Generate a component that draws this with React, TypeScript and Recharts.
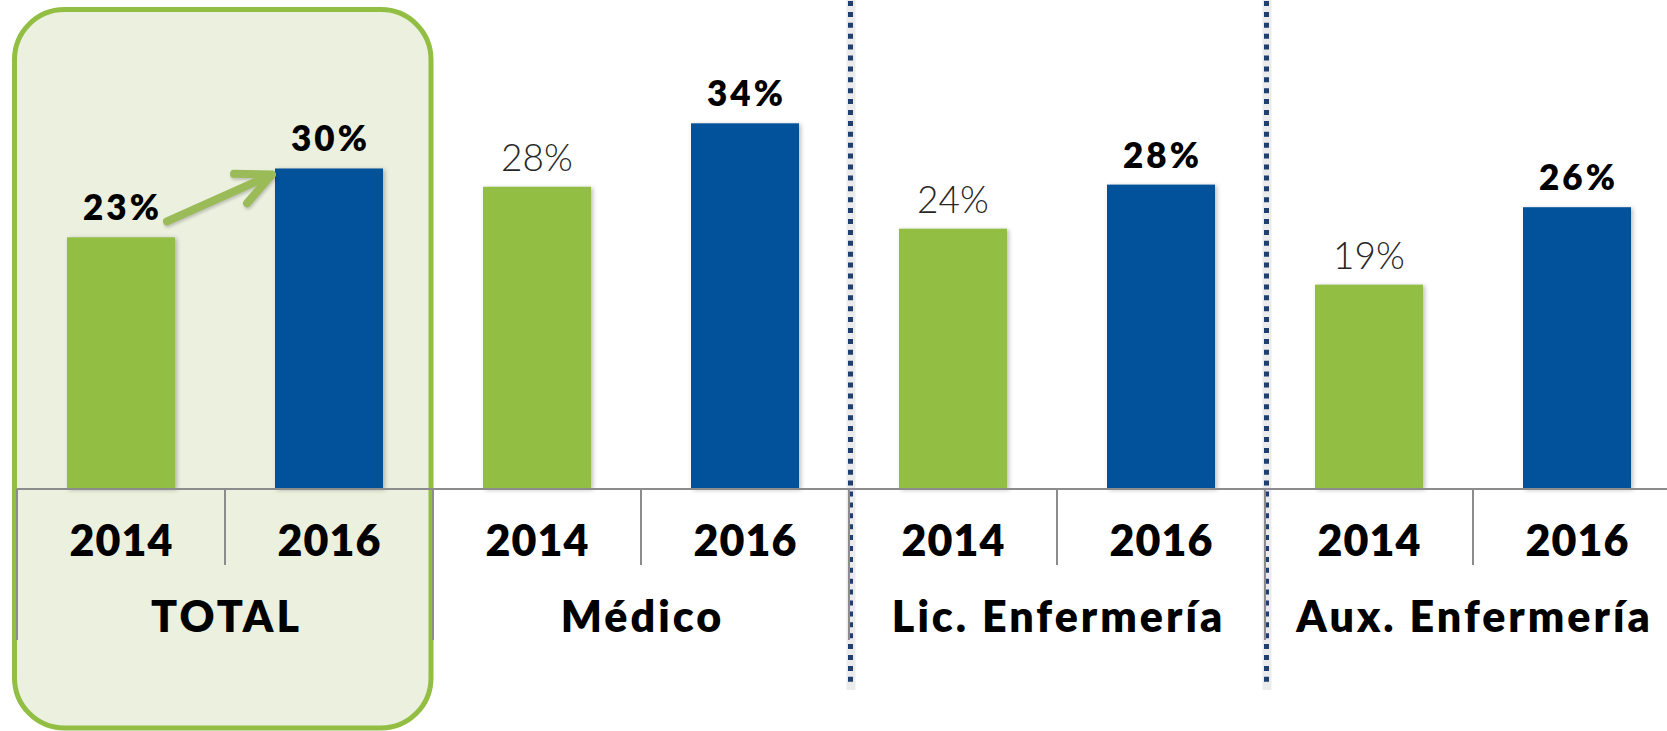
import React from 'react';
import { BarChart, Bar, XAxis, YAxis, Cell, LabelList, ReferenceArea, ReferenceLine } from 'recharts';

// ---------- data ----------
const groups = ['TOTAL', 'Médico', 'Lic. Enfermería', 'Aux. Enfermería'];
const years = ['2014', '2016'];
const values2014 = [23.4, 28.1, 24.2, 19.0];
const values2016 = [29.8, 34.0, 28.3, 26.2];
const labels2014 = ['23%', '28%', '24%', '19%'];
const labels2016 = ['30%', '34%', '28%', '26%'];
const highlightedGroup = 'TOTAL';
const dottedBefore = ['Lic. Enfermería', 'Aux. Enfermería'];

// ---------- layout / style ----------
const W = 1667;
const H = 731;
const MARGIN = { top: 5, right: -14, left: 17, bottom: 0 };
const AXIS_H = 242;
const SLOT = (W - MARGIN.left - MARGIN.right) / (groups.length * years.length);
const GREEN = '#92BE43';
const BLUE = '#02529B';
const ARROW = '#9BBB59';
const AXIS_GRAY = '#8C8C8C';
const FONT = 'Lato, "Noto Sans", sans-serif';

const data = groups.flatMap((g, gi) => [
  { key: `${g}|${years[0]}`, group: g, year: years[0], yi: 0, value: values2014[gi], label: labels2014[gi] },
  { key: `${g}|${years[1]}`, group: g, year: years[1], yi: 1, value: values2016[gi], label: labels2016[gi] },
]);

const AxisTick = (props: any) => {
  const { x, y, payload } = props;
  const [group, year] = String(payload.value).split('|');
  const yi = years.indexOf(year);
  const left = x - SLOT / 2;
  return (
    <g>
      <line x1={left} x2={left} y1={y} y2={y + (yi === 0 ? 151 : 76)} stroke={AXIS_GRAY} strokeWidth={2} />
      <text
        x={x + 0.5}
        y={y + 67}
        textAnchor="middle"
        fontFamily={FONT}
        fontWeight={800}
        fontSize={43}
        letterSpacing={1}
        fill="#000"
      >
        {year}
      </text>
      {yi === years.length - 1 && (
        <text
          x={x - SLOT / 2 + 1.5}
          y={y + 143}
          textAnchor="middle"
          fontFamily={FONT}
          fontWeight={800}
          fontSize={43}
          letterSpacing={3}
          fill="#000"
        >
          {group}
        </text>
      )}
    </g>
  );
};

const ValueLabel = (props: any) => {
  const { x, y, width, height, index } = props;
  const d = data[index];
  const bold = d.yi === 1 || d.group === highlightedGroup;
  const cx = x + width / 2;
  let arrow: React.ReactNode = null;
  if (d.group === highlightedGroup && d.yi === 1) {
    const prev = data[index - 1];
    const base = y + height;
    const prevTop = base - (height * prev.value) / d.value;
    const prevRight = x - SLOT + width;
    const sx = prevRight - 8;
    const sy = prevTop - 16;
    const ex = x - 3;
    const ey = y + 6;
    const ang = Math.atan2(sy - ey, sx - ex);
    const L = 38;
    const a = (25 * Math.PI) / 180;
    const w1x = ex + L * Math.cos(ang - a);
    const w1y = ey + L * Math.sin(ang - a);
    const w2x = ex + L * Math.cos(ang + a);
    const w2y = ey + L * Math.sin(ang + a);
    arrow = (
      <path
        d={`M${sx},${sy} L${ex},${ey} M${w1x},${w1y} L${ex},${ey} L${w2x},${w2y}`}
        stroke={ARROW}
        strokeWidth={8}
        fill="none"
        strokeLinecap="round"
        strokeLinejoin="round"
        style={{ filter: 'drop-shadow(1px 2px 1.5px rgba(0,0,0,0.2))' }}
      />
    );
  }
  return (
    <g>
      <text
        x={cx + (bold ? 1.5 : 0)}
        y={y - (bold ? 17 : 16)}
        textAnchor="middle"
        fontFamily={FONT}
        fontWeight={bold ? 800 : 300}
        fontSize={bold ? 35 : 37}
        letterSpacing={bold ? 3 : 0}
        fill={bold ? '#000' : '#262626'}
      >
        {d.label}
      </text>
      {arrow}
    </g>
  );
};

const BarShape = (props: any) => {
  const { x, y, width, height, fill } = props;
  return (
    <rect
      x={x}
      y={y}
      width={width}
      height={height}
      fill={fill}
      style={{ filter: 'drop-shadow(2px 1px 2px rgba(0,0,0,0.25))' }}
    />
  );
};

const HighlightBox = (props: any) => {
  const { x, width } = props;
  return (
    <rect
      x={x - 2.5}
      y={9.5}
      width={width + 0.5}
      height={718.5}
      rx={50}
      ry={50}
      fill="#EBF0DF"
      stroke={GREEN}
      strokeWidth={5}
    />
  );
};

const DottedLine = (props: any) => {
  const { x1 } = props;
  const cx = x1 + 1.5;
  return (
    <g>
      <line x1={cx + 0.5} x2={cx + 0.5} y1={0} y2={690} stroke="rgba(0,0,0,0.08)" strokeWidth={9} />
      <line x1={cx} x2={cx} y1={1} y2={687} stroke="#1F3F6E" strokeWidth={5} strokeDasharray="5 5.9" />
    </g>
  );
};

export default function App() {
  return (
    <div style={{ position: 'absolute', left: 0, top: 0, width: W, height: H, background: '#fff' }}>
      <BarChart width={W} height={H} data={data} margin={MARGIN} barCategoryGap={0}>
        <ReferenceArea
          x1={`${highlightedGroup}|${years[0]}`}
          x2={`${highlightedGroup}|${years[1]}`}
          shape={HighlightBox}
          ifOverflow="visible"
        />
        <YAxis hide domain={[0, 45]} />
        <XAxis
          dataKey="key"
          height={AXIS_H}
          interval={0}
          tickSize={0}
          tickMargin={0}
          tickLine={false}
          axisLine={{ stroke: AXIS_GRAY, strokeWidth: 2 }}
          tick={AxisTick}
        />
        <Bar dataKey="value" barSize={108} isAnimationActive={false} shape={BarShape}>
          {data.map((d) => (
            <Cell key={d.key} fill={d.yi === 0 ? GREEN : BLUE} />
          ))}
          <LabelList dataKey="value" content={ValueLabel} />
        </Bar>
        {dottedBefore.map((g) => (
          <ReferenceLine key={g} x={`${g}|${years[0]}`} position="start" shape={DottedLine} ifOverflow="visible" />
        ))}
      </BarChart>
    </div>
  );
}
